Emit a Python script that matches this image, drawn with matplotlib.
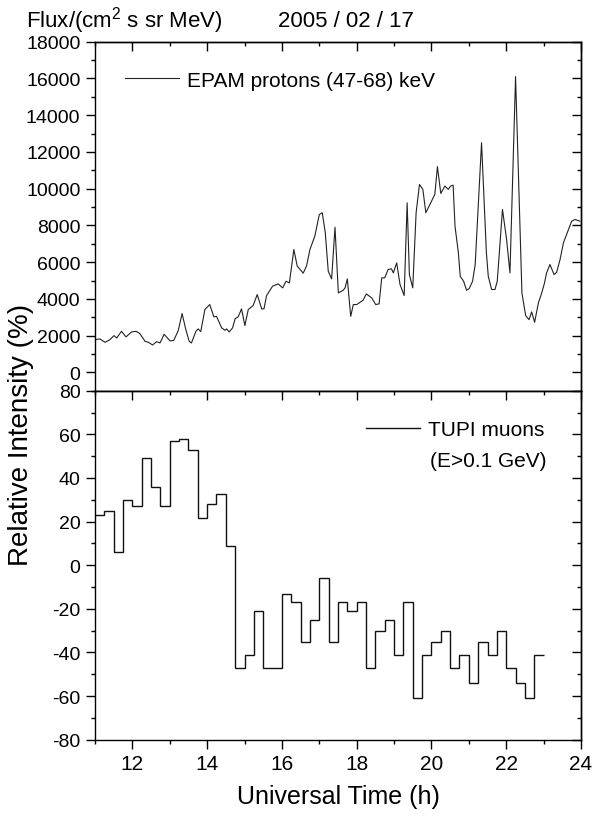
"""EPAM proton flux and TUPI muon intensity on 2005/02/17."""

import matplotlib

matplotlib.use("Agg")
import matplotlib.pyplot as plt
from matplotlib.ticker import MultipleLocator

# EPAM protons (47-68) keV
EPAM_TIME = [
    11.00, 11.13, 11.27, 11.40, 11.51, 11.58, 11.71, 11.83, 11.98, 12.10,
    12.20, 12.34, 12.43, 12.54, 12.65, 12.74, 12.85, 13.01, 13.11, 13.23,
    13.33, 13.43, 13.52, 13.58, 13.70, 13.76, 13.83, 13.94, 14.07, 14.18,
    14.25, 14.39, 14.48, 14.52, 14.59, 14.68, 14.75, 14.83, 14.92, 15.01,
    15.10, 15.23, 15.34, 15.46, 15.52, 15.59, 15.75, 15.90, 16.02, 16.11,
    16.20, 16.32, 16.41, 16.57, 16.66, 16.75, 16.88, 17.00, 17.08, 17.16,
    17.24, 17.33, 17.42, 17.51, 17.64, 17.69, 17.75, 17.84, 17.91, 18.00,
    18.17, 18.26, 18.40, 18.51, 18.60, 18.67, 18.75, 18.84, 18.93, 18.98,
    19.07, 19.16, 19.27, 19.35, 19.41, 19.50, 19.59, 19.68, 19.77, 19.85,
    19.96, 20.09, 20.16, 20.25, 20.36, 20.45, 20.51, 20.58, 20.63, 20.72,
    20.77, 20.86, 20.94, 21.01, 21.10, 21.17, 21.34, 21.47, 21.52, 21.61,
    21.70, 21.76, 21.90, 22.01, 22.10, 22.25, 22.42, 22.52, 22.61, 22.68,
    22.76, 22.86, 22.95, 23.02, 23.08, 23.17, 23.28, 23.35, 23.44, 23.53,
    23.75, 23.84, 23.97,
]
EPAM_FLUX = [
    1780, 1820, 1635, 1780, 2000, 1870, 2235, 1930, 2200, 2235,
    2110, 1690, 1635, 1490, 1670, 1600, 2070, 1710, 1745, 2290,
    3200, 2330, 1690, 1600, 2235, 2365, 2220, 3420, 3690, 3020,
    3050, 2420, 2290, 2365, 2200, 2420, 2925, 3020, 3455, 2545,
    3420, 3635, 4235, 3455, 3455, 4180, 4690, 4815, 4600, 4960,
    4870, 6690, 5780, 5400, 5800, 6690, 7410, 8590, 8690, 7600,
    5500, 5090, 7900, 4325, 4470, 4600, 5090, 3050, 3690, 3690,
    3925, 4270, 4055, 3690, 3730, 5145, 5145, 5600, 5635, 5415,
    5960, 4780, 4180, 9230, 5320, 4600, 8690, 10230, 9960, 8690,
    9140, 9690, 11200, 9740, 10140, 9960, 10140, 10190, 7960, 6510,
    5230, 4960, 4470, 4560, 4960, 5870, 12500, 6510, 5230, 4510,
    4510, 4960, 8870, 7230, 5415, 16100, 4325, 3090, 2870, 3290,
    2725, 3780, 4325, 4835, 5415, 5870, 5320, 5450, 6140, 7050,
    8230, 8320, 8230,
]

# TUPI muons (E>0.1 GeV), 15 min bins from 11:00 to 23:00
TUPI_EDGES = [11.0 + 0.25 * i for i in range(49)]
TUPI_INTENSITY = [
    23, 25, 6, 30, 27, 49, 36, 27, 57, 58, 53, 21.5,
    28, 32.6, 8.6, -47, -41, -21, -47, -47, -13, -17, -35, -25,
    -6, -35, -17, -21, -17, -47, -30, -25, -41, -17, -61, -41,
    -35, -30, -47, -41, -54, -35, -41, -30, -47, -54, -61, -41,
]

X_TICKS = [12, 14, 16, 18, 20, 22, 24]

plt.rcParams["font.family"] = ["Liberation Sans", "DejaVu Sans"]
plt.rcParams["mathtext.fontset"] = "custom"
plt.rcParams["mathtext.rm"] = "Liberation Sans"
plt.rcParams["axes.unicode_minus"] = False
plt.rcParams["axes.linewidth"] = 1.0

TICK_FS = 14
LEGEND_FS = 15
MAJ, MIN = 6.5, 3.2


def style_axis(ax, ymaj, ymin, xlabels):
    ax.set_xlim(11, 24)
    ax.xaxis.set_major_locator(MultipleLocator(2))
    ax.xaxis.set_minor_locator(MultipleLocator(1))
    ax.yaxis.set_major_locator(MultipleLocator(ymaj))
    ax.yaxis.set_minor_locator(MultipleLocator(ymin))
    ax.tick_params(axis="y", which="major", direction="out", length=MAJ,
                   width=1, labelsize=TICK_FS, pad=4)
    ax.tick_params(axis="y", which="minor", direction="out", length=MIN, width=1)
    if xlabels:
        ax.tick_params(axis="x", which="major", direction="out", length=MAJ,
                       width=1, labelsize=15, pad=4)
        ax.tick_params(axis="x", which="minor", direction="out", length=MIN, width=1)
    else:
        ax.tick_params(axis="x", which="both", bottom=False, labelbottom=False)
    # top and right ticks point inward
    top = ax.secondary_xaxis("top")
    top.xaxis.set_major_locator(MultipleLocator(2))
    top.xaxis.set_minor_locator(MultipleLocator(1))
    top.tick_params(which="major", direction="in", length=MAJ, width=1, labeltop=False)
    top.tick_params(which="minor", direction="in", length=MIN, width=1)
    right = ax.secondary_yaxis("right")
    right.yaxis.set_major_locator(MultipleLocator(ymaj))
    right.yaxis.set_minor_locator(MultipleLocator(ymin))
    right.tick_params(which="major", direction="in", length=MAJ, width=1, labelright=False)
    right.tick_params(which="minor", direction="in", length=MIN, width=1)


def plot() -> None:
    fig = plt.figure(figsize=(6.03, 8.2), dpi=100)
    ax1 = fig.add_axes([0.1575, 0.5223, 0.806, 0.4256])
    ax2 = fig.add_axes([0.1575, 0.0967, 0.806, 0.4256])

    ax1.plot(EPAM_TIME, EPAM_FLUX, color="#222222", lw=0.8,
             label="EPAM protons (47-68) keV")
    ax1.set_ylim(-1000, 18000)
    style_axis(ax1, 2000, 1000, xlabels=False)
    ax1.legend(loc="upper left", bbox_to_anchor=(0.062, 0.917), frameon=False,
               fontsize=LEGEND_FS, borderaxespad=0, borderpad=0,
               handlelength=2.6, handletextpad=0.35)

    ax2.stairs(TUPI_INTENSITY, TUPI_EDGES, baseline=None, color="#111111",
               lw=1.0, label="TUPI muons")
    ax2.set_ylim(-80, 80)
    style_axis(ax2, 20, 10, xlabels=True)
    ax2.set_xticks(X_TICKS)
    ax2.legend(loc="upper left", bbox_to_anchor=(0.558, 0.915), frameon=False,
               fontsize=LEGEND_FS, borderaxespad=0, borderpad=0,
               handlelength=2.6, handletextpad=0.35)
    ax2.text(0.689, 0.80, "(E>0.1 GeV)", transform=ax2.transAxes,
             fontsize=LEGEND_FS, va="center", ha="left")
    ax2.set_xlabel("Universal Time (h)", fontsize=18, labelpad=8)

    fig.text(0.043, 0.967, r"Flux/(cm$^{2}$ s sr MeV)", fontsize=16,
             va="baseline", ha="left")
    fig.text(0.461, 0.967, "2005 / 02 / 17", fontsize=16,
             va="baseline", ha="left")
    fig.text(0.034, 0.4695, "Relative Intensity (%)", fontsize=20,
             rotation=90, va="center", ha="center")

    fig.savefig("out.png", dpi=100)


if __name__ == "__main__":
    plot()
